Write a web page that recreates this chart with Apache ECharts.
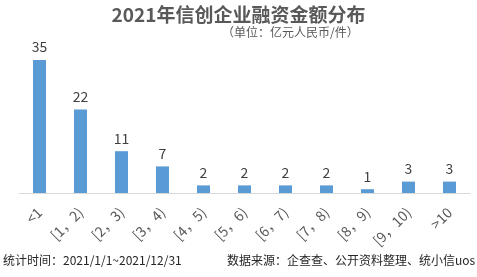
<!DOCTYPE html>
<html><head><meta charset="utf-8">
<script src="https://cdn.jsdelivr.net/npm/echarts@6/dist/echarts.min.js"></script>
<style>html,body{margin:0;padding:0;background:#fff;}#c{width:477px;height:277px;}</style>
</head><body><div id="c"></div>
<script>
const categories = ['<1', '[1，2)', '[2，3)', '[3，4)', '[4，5)', '[5，6)', '[6，7)', '[7，8)', '[8，9)', '[9，10)', '>10'];
const counts = [35, 22, 11, 7, 2, 2, 2, 2, 1, 3, 3];
const titleText = '2021年信创企业融资金额分布';
const unitText = '（单位：亿元人民币/件）';
const timeText = '统计时间：2021/1/1~2021/12/31';
const sourceText = '数据来源：企查查、公开资料整理、统小信uos';

const chart = echarts.init(document.getElementById('c'));
const font = '"Noto Sans CJK SC", "Noto Sans", sans-serif';
chart.setOption({
  animation: false,
  textStyle: { fontFamily: font },
  title: {
    text: titleText, left: 'center', top: 0,
    textStyle: { fontSize: 19, fontWeight: 'bold', color: '#595959', fontFamily: font }
  },
  grid: { left: 19, right: 7, top: 41, height: 152, containLabel: false },
  xAxis: {
    type: 'category', data: categories,
    axisLine: { lineStyle: { color: '#d9d9d9', width: 1 } },
    axisTick: { show: false },
    axisLabel: { rotate: 45, color: '#595959', fontSize: 14, margin: 17, interval: 0, fontFamily: font }
  },
  yAxis: { type: 'value', min: 0, max: 40, show: false, splitLine: { show: false } },
  series: [{
    type: 'bar', data: counts, barWidth: 13,
    itemStyle: { color: '#5b9bd5' },
    label: { show: true, position: 'top', distance: 6, color: '#404040', fontSize: 14, fontFamily: font }
  }],
  graphic: [
    { type: 'text', left: 222, top: 26, style: { text: unitText, fill: '#595959', font: '12px ' + font } },
    { type: 'text', left: 3, top: 254, style: { text: timeText, fill: '#262626', font: '12px ' + font } },
    { type: 'text', left: 227, top: 254, style: { text: sourceText, fill: '#262626', font: '12px ' + font } }
  ]
});
</script></body></html>
